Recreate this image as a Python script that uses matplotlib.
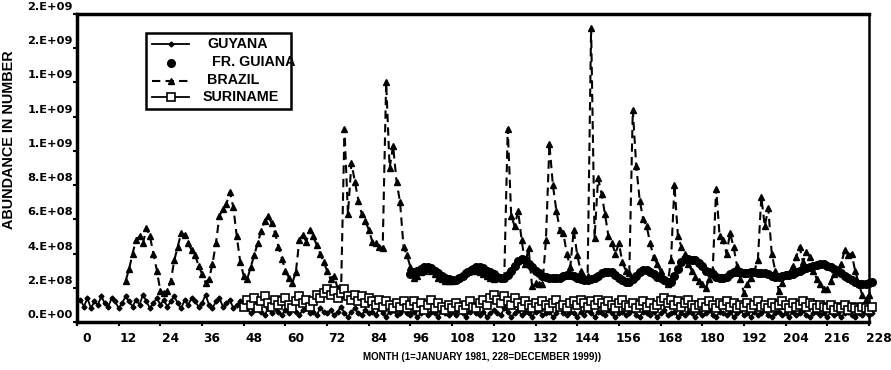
import numpy as np
import matplotlib
matplotlib.use('Agg')
import matplotlib.pyplot as plt
import matplotlib.transforms as mtransforms
from matplotlib.lines import Line2D
from matplotlib.patches import Rectangle

# abundance in units of 1e8, one value per month
guyana_start = 1
guyana = [
    1.3, 0.9, 1.4, 0.8, 1.2, 1.0, 1.5, 1.1, 0.9, 1.4, 1.2, 0.8,
    1.1, 1.5, 1.2, 0.9, 1.3, 1.0, 1.6, 1.2, 0.8, 1.1, 1.4, 1.0,
    1.3, 0.9, 1.2, 1.5, 1.1, 0.8, 1.3, 1.0, 1.4, 1.2, 0.9, 1.1,
    1.6, 1.0, 0.8, 1.2, 1.4, 0.9, 1.1, 1.3, 0.8, 1.0, 1.2, 0.9,
    0.8, 0.5, 0.7, 1.0, 0.6, 0.4, 0.8, 0.5, 0.9, 0.6, 0.4, 0.7,
    0.5, 0.8, 0.6, 0.4, 0.7, 0.9, 0.5, 0.6, 0.4, 0.8, 0.6, 0.5,
    0.7, 0.4, 0.6, 0.9, 0.5, 0.3, 0.6, 0.8, 0.5, 0.4, 0.7, 0.5,
    0.6, 0.4, 0.8, 0.5, 0.3, 0.6, 0.7, 0.4, 0.5, 0.8, 0.5, 0.4,
    0.6, 0.3, 0.5, 0.7, 0.4, 0.6, 0.5, 0.3, 0.7, 0.5, 0.4, 0.6,
    0.4, 0.7, 0.5, 0.3, 0.6, 0.8, 0.5, 0.4, 0.6, 0.3, 0.5, 0.7,
    0.5, 0.4, 0.8, 0.6, 0.3, 0.5, 0.7, 0.4, 0.6, 0.5, 0.3, 0.6,
    0.7, 0.4, 0.5, 0.6, 0.3, 0.5, 0.8, 0.5, 0.4, 0.6, 0.5, 0.3,
    0.6, 0.4, 0.7, 0.5, 0.3, 0.6, 0.5, 0.4, 0.7, 0.5, 0.3, 0.5,
    0.6, 0.4, 0.5, 0.7, 0.4, 0.3, 0.6, 0.5, 0.4, 0.6, 0.3, 0.5,
    0.7, 0.4, 0.5, 0.6, 0.3, 0.5, 0.4, 0.6, 0.5, 0.3, 0.6, 0.4,
    0.5, 0.7, 0.4, 0.3, 0.6, 0.5, 0.4, 0.6, 0.3, 0.5, 0.7, 0.4,
    0.5, 0.3, 0.6, 0.4, 0.5, 0.7, 0.4, 0.3, 0.5, 0.6, 0.4, 0.5,
    0.3, 0.6, 0.4, 0.5, 0.7, 0.4, 0.3, 0.5, 0.6, 0.4, 0.5, 0.3,
    0.6, 0.4, 0.5, 0.3, 0.5, 0.6, 0.4, 0.3, 0.5, 0.4, 0.6, 0.4, 0.5,
]

fr_guiana_start = 96
fr_guiana = [
    2.8, 2.9, 3.0, 3.1, 3.2, 3.2, 3.15, 3.0, 2.85, 2.7, 2.6, 2.5,
    2.45, 2.45, 2.55, 2.7, 2.85, 3.0, 3.1, 3.2, 3.2, 3.15, 3.0, 2.9,
    2.8, 2.65, 2.55, 2.55, 2.75, 3.0, 3.3, 3.55, 3.7, 3.6, 3.4, 3.2,
    3.0, 2.85, 2.7, 2.65, 2.6, 2.55, 2.55, 2.6, 2.7, 2.75, 2.75, 2.7,
    2.6, 2.5, 2.45, 2.45, 2.5, 2.6, 2.7, 2.85, 2.95, 2.95, 2.9, 2.75,
    2.6, 2.45, 2.35, 2.35, 2.5, 2.7, 2.9, 3.05, 3.05, 2.95, 2.8, 2.65,
    2.55, 2.45, 2.35, 2.35, 2.7, 3.1, 3.5, 3.7, 3.7, 3.65, 3.6, 3.45,
    3.25, 3.0, 2.9, 2.8, 2.65, 2.55, 2.55, 2.65, 2.8, 2.95, 2.95, 2.9,
    2.85, 2.85, 2.9, 2.9, 2.85, 2.85, 2.85, 2.8, 2.7, 2.65, 2.65, 2.7,
    2.75, 2.75, 2.8, 2.9, 3.0, 3.1, 3.15, 3.2, 3.3, 3.35, 3.4, 3.4,
    3.3, 3.2, 3.1, 3.0, 2.85, 2.7, 2.55, 2.45, 2.35, 2.25, 2.2, 2.25, 2.3, 2.35,
]

brazil_start = 14
brazil = [
    2.4, 3.1, 4.0, 4.8, 5.0, 4.6, 5.5, 5.0, 4.0, 3.0,
    1.8, 1.7, 1.8, 2.4, 3.6, 4.4, 5.2, 5.1, 4.6, 4.2, 3.9, 3.3,
    2.8, 2.3, 2.5, 3.4, 4.6, 6.2, 6.6, 6.9, 7.6, 6.7, 5.0, 3.5,
    2.7, 2.5, 3.2, 3.9, 4.6, 5.3, 5.9, 6.2, 5.8, 5.2, 4.4, 3.7,
    3.0, 2.6, 2.3, 2.9, 4.8, 5.1, 4.7, 5.4, 5.0, 4.5, 4.0, 3.5,
    3.0, 2.5, 2.7, 2.0, 1.6, 11.3, 6.3, 9.3, 8.2, 7.1, 6.3, 5.9,
    5.4, 4.7, 4.6, 4.4, 4.3, 14.0, 9.0, 10.3, 8.2, 7.0, 4.4, 3.9,
    3.2, 2.6, 2.7, 2.9, 3.0, 3.1, 3.0, 2.8, 2.6, 2.5, 2.4, 2.4,
    2.4, 2.5, 2.6, 2.8, 3.0, 3.1, 3.1, 3.0, 2.9, 2.8, 2.7, 2.6,
    2.5, 2.6, 2.6, 2.6, 11.3, 6.2, 5.6, 6.5, 4.8, 3.4, 4.3, 2.1,
    2.3, 2.2, 2.2, 4.8, 10.4, 8.0, 6.5, 5.4, 5.2, 4.0, 3.2, 5.4,
    3.9, 3.0, 2.65, 2.7, 17.2, 4.9, 8.4, 7.5, 6.3, 5.0, 4.6, 4.0,
    4.6, 3.5, 3.0, 2.85, 12.4, 9.1, 7.1, 6.0, 5.6, 4.6, 3.8, 3.4,
    3.0, 2.5, 2.2, 3.6, 8.0, 5.0, 4.4, 4.0, 3.4, 3.0, 2.65, 2.4,
    2.25, 2.0, 2.5, 3.0, 7.8, 5.0, 4.8, 4.0, 5.2, 4.4, 3.3, 2.5,
    1.7, 2.2, 2.6, 3.0, 3.6, 7.3, 5.6, 6.65, 4.0, 3.0, 1.8, 2.3,
    2.8, 2.85, 3.3, 3.8, 4.4, 3.5, 4.1, 3.8, 3.0, 2.5, 2.2, 1.9,
    1.9, 2.4, 2.8, 3.0, 3.4, 4.2, 3.9, 4.0, 3.0, 2.3, 1.6, 1.3, 1.6,
]

suriname_start = 48
suriname = [
    0.9, 1.3, 1.0, 1.4, 0.8, 1.2, 1.5, 1.1, 0.9, 1.3, 1.0, 1.2,
    1.4, 1.0, 0.8, 1.2, 1.5, 1.1, 1.3, 0.9, 1.2, 1.6, 1.4, 1.7,
    1.9, 1.6, 1.8, 1.4, 1.7, 1.9, 1.5, 1.3, 1.6, 1.2, 1.5, 1.1,
    1.4, 1.2, 1.0, 1.3, 0.9, 1.2, 1.0, 0.8, 1.1, 0.9, 1.2, 0.8,
    1.0, 1.2, 0.9, 1.1, 0.7, 1.0, 1.3, 0.8, 1.1, 0.9, 0.7, 1.0,
    0.8, 1.1, 0.9, 0.7, 1.0, 1.2, 0.9, 0.8, 1.1, 1.3, 1.0, 1.4,
    1.6, 1.3, 1.1, 1.5, 1.2, 1.0, 1.4, 1.1, 0.9, 1.2, 1.0, 0.8,
    1.1, 0.9, 1.2, 1.0, 0.8, 1.1, 1.3, 0.9, 1.0, 0.8, 1.1, 1.2,
    1.0, 1.3, 1.1, 0.9, 1.2, 1.0, 1.3, 1.1, 0.9, 1.2, 1.0, 0.8,
    1.1, 1.3, 1.0, 0.9, 1.1, 0.8, 1.0, 1.2, 0.9, 1.1, 0.8, 1.0,
    1.2, 1.4, 1.1, 1.3, 1.0, 1.2, 0.9, 1.1, 1.3, 1.0, 0.8, 1.0,
    1.1, 0.9, 1.2, 1.0, 0.8, 1.1, 1.0, 1.2, 0.9, 1.1, 0.8, 1.0,
    0.9, 1.1, 0.8, 1.0, 1.2, 0.9, 1.0, 0.8, 1.1, 0.9, 1.0, 1.2,
    1.0, 0.8, 1.1, 0.9, 1.0, 1.2, 0.9, 1.1, 1.0, 0.8, 1.0, 0.9,
    0.8, 1.0, 0.7, 0.9, 0.8, 1.0, 0.7, 0.9, 0.8, 0.7, 0.9, 0.8, 0.7, 0.9,
]

x_ticks = list(range(0, 229, 12))
y_ticks = [0, 2e8, 4e8, 6e8, 8e8, 1.0e9, 1.2e9, 1.4e9, 1.6e9, 1.8e9]
y_tick_labels = ['0.E+00', '2.E+08', '4.E+08', '6.E+08', '8.E+08',
                 '1.E+09', '1.E+09', '1.E+09', '2.E+09', '2.E+09']

SCALE = 1e8
W, H = 891, 370

styles = {
    'GUYANA':     dict(color='black', lw=1.3, marker='D', ms=2.5, zorder=3),
    'FR. GUIANA': dict(color='black', ls='none', marker='o', ms=5.5, zorder=4),
    'BRAZIL':     dict(color='black', lw=1.5, ls=(0, (4, 2.5)), marker='^',
                       ms=5, zorder=3),
    'SURINAME':   dict(color='black', lw=1.3, marker='s', ms=5.3, mfc='white',
                       mec='black', mew=1.2, zorder=5),
}
series = [('GUYANA', guyana_start, guyana),
          ('FR. GUIANA', fr_guiana_start, fr_guiana),
          ('BRAZIL', brazil_start, brazil),
          ('SURINAME', suriname_start, suriname)]

fig = plt.figure(figsize=(W / 100, H / 100), dpi=100, facecolor='white')
ax = fig.add_axes([77 / W, 1 - 322 / H, 792 / W, 308 / H])

for name, start, vals in series:
    x = np.arange(start, start + len(vals))
    ax.plot(x, np.array(vals) * SCALE, clip_on=False, **styles[name])

ax.set_xlim(0, 228)
ax.set_ylim(0, 1.8e9)
ax.set_xticks(x_ticks)
ax.set_xticklabels([str(t) for t in x_ticks])
ax.set_yticks(y_ticks)
ax.set_yticklabels(y_tick_labels)

for side in ['left', 'top', 'bottom']:
    ax.spines[side].set_linewidth(2.5)
ax.spines['right'].set_linewidth(1.8)

ax.tick_params(axis='x', direction='out', length=3, width=1.5, pad=4,
               labelsize=8.8)
ax.tick_params(axis='y', direction='out', length=3, width=1.5, pad=0,
               labelsize=8.2)
for lbl in ax.get_xticklabels():
    lbl.set_fontweight('bold')
    lbl.set_family('DejaVu Sans')
    lbl.set_transform(lbl.get_transform() +
                      mtransforms.ScaledTranslation(0.10, 0, fig.dpi_scale_trans))
for lbl in ax.get_yticklabels():
    lbl.set_fontweight('bold')
    lbl.set_family('DejaVu Sans')
    lbl.set_transform(lbl.get_transform() +
                      mtransforms.ScaledTranslation(0, 0.08, fig.dpi_scale_trans))

# legend box drawn by hand so it keeps the reference's proportions
fig.add_artist(Rectangle((146 / W, 1 - 109 / H), 145 / W, 76 / H,
                         transform=fig.transFigure, fill=False,
                         edgecolor='black', lw=1.8, zorder=6))
legend_rows = [('GUYANA', 44, 207), ('FR. GUIANA', 62.5, 212),
               ('BRAZIL', 80.5, 207), ('SURINAME', 97, 203)]
for name, ypx, xtext in legend_rows:
    st = dict(styles[name])
    st.pop('zorder')
    yf = 1 - ypx / H
    fig.add_artist(Line2D([152 / W, 170.5 / W, 189 / W], [yf, yf, yf],
                          transform=fig.transFigure, markevery=[1],
                          zorder=7, **st))
    fig.text(xtext / W, yf, name, ha='left', va='center', fontsize=10.3,
             fontweight='bold', family='Liberation Sans', zorder=7)

fig.text(0.010, 1 - 140 / H, 'ABUNDANCE IN NUMBER', rotation=90,
         ha='center', va='center', fontsize=10.4, fontweight='bold',
         family='Liberation Sans')
fig.text(482 / W, 1 - 357 / H,
         'MONTH (1=JANUARY 1981, 228=DECEMBER 1999))',
         ha='center', va='center', fontsize=7.0, fontweight='bold',
         family='Liberation Sans')

fig.savefig('out.png', dpi=100, facecolor='white')
